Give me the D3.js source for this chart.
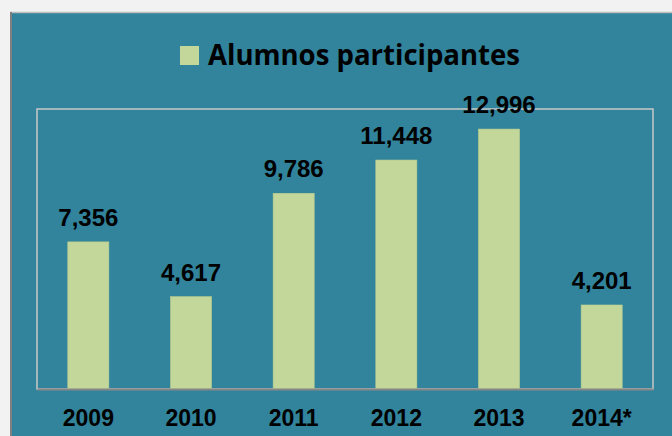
<!DOCTYPE html>
<html><head><meta charset="utf-8">
<script src="https://cdn.jsdelivr.net/npm/d3@7"></script>
<style>html,body{margin:0;padding:0;background:#f2f2f2;overflow:hidden}</style>
</head><body>
<svg id="c" width="672" height="436"></svg>
<script>
const years = ["2009","2010","2011","2012","2013","2014*"];
const alumnos = [7356, 4617, 9786, 11448, 12996, 4201];
const seriesName = "Alumnos participantes";

const svg = d3.select("#c");
const W = 672, H = 436;
const teal = "#31849b", barColor = "#c4d79b";

// chart area
svg.append("rect").attr("x",10).attr("y",12).attr("width",W-10).attr("height",H-12).attr("fill",teal);
svg.append("line").attr("x1",10).attr("x2",W).attr("y1",12.5).attr("y2",12.5).attr("stroke","#bdbdbd").attr("stroke-width",1.5);
svg.append("line").attr("x1",11).attr("x2",11).attr("y1",12).attr("y2",H).attr("stroke","#7f7f7f").attr("stroke-width",2);

const plot = {l:37, r:653, t:109, b:389};
const x = d3.scaleBand().domain(years).range([plot.l, plot.r]).paddingInner(0.6).paddingOuter(0.3);
const y = d3.scaleLinear().domain([0,14000]).range([plot.b, plot.t]);

// plot border
svg.append("rect").attr("x",plot.l).attr("y",plot.t).attr("width",plot.r-plot.l).attr("height",plot.b-plot.t)
  .attr("fill","none").attr("stroke","#c9c9c9").attr("stroke-width",1.5);

// bars
svg.selectAll("rect.bar").data(alumnos).enter().append("rect").attr("class","bar")
  .attr("x",(d,i)=>x(years[i])).attr("width",x.bandwidth())
  .attr("y",d=>y(d)).attr("height",d=>y(0)-y(d))
  .attr("fill",barColor).attr("stroke","#b9cc8f").attr("stroke-width",0.6);

// axis
const axis = d3.axisBottom(x).tickSize(0).tickPadding(0);
const gA = svg.append("g").attr("transform",`translate(0,${plot.b})`).call(axis);
gA.select(".domain").attr("stroke","#878787").attr("stroke-width",2);
gA.selectAll("text").attr("font-family","Liberation Sans, Arial, sans-serif").attr("font-weight","bold")
  .attr("font-size",23).attr("fill","#000").attr("dy",null).attr("y",37);

// value labels
const fmt = d3.format(",");
svg.selectAll("text.val").data(alumnos).enter().append("text").attr("class","val")
  .attr("x",(d,i)=>x(years[i])+x.bandwidth()/2).attr("y",d=>y(d)-16)
  .attr("text-anchor","middle").attr("font-family","Liberation Sans, Arial, sans-serif")
  .attr("font-weight","bold").attr("font-size",24).attr("fill","#000").text(d=>fmt(d));

// legend
svg.append("rect").attr("x",180).attr("y",46).attr("width",19).attr("height",19).attr("fill",barColor);
svg.append("text").attr("x",208).attr("y",65).attr("font-family","Open Sans, Lato, sans-serif")
  .attr("font-weight","bold").attr("font-size",28).attr("fill","#000")
  .attr("textLength",312).attr("lengthAdjust","spacingAndGlyphs").text(seriesName);
</script>
</body></html>
